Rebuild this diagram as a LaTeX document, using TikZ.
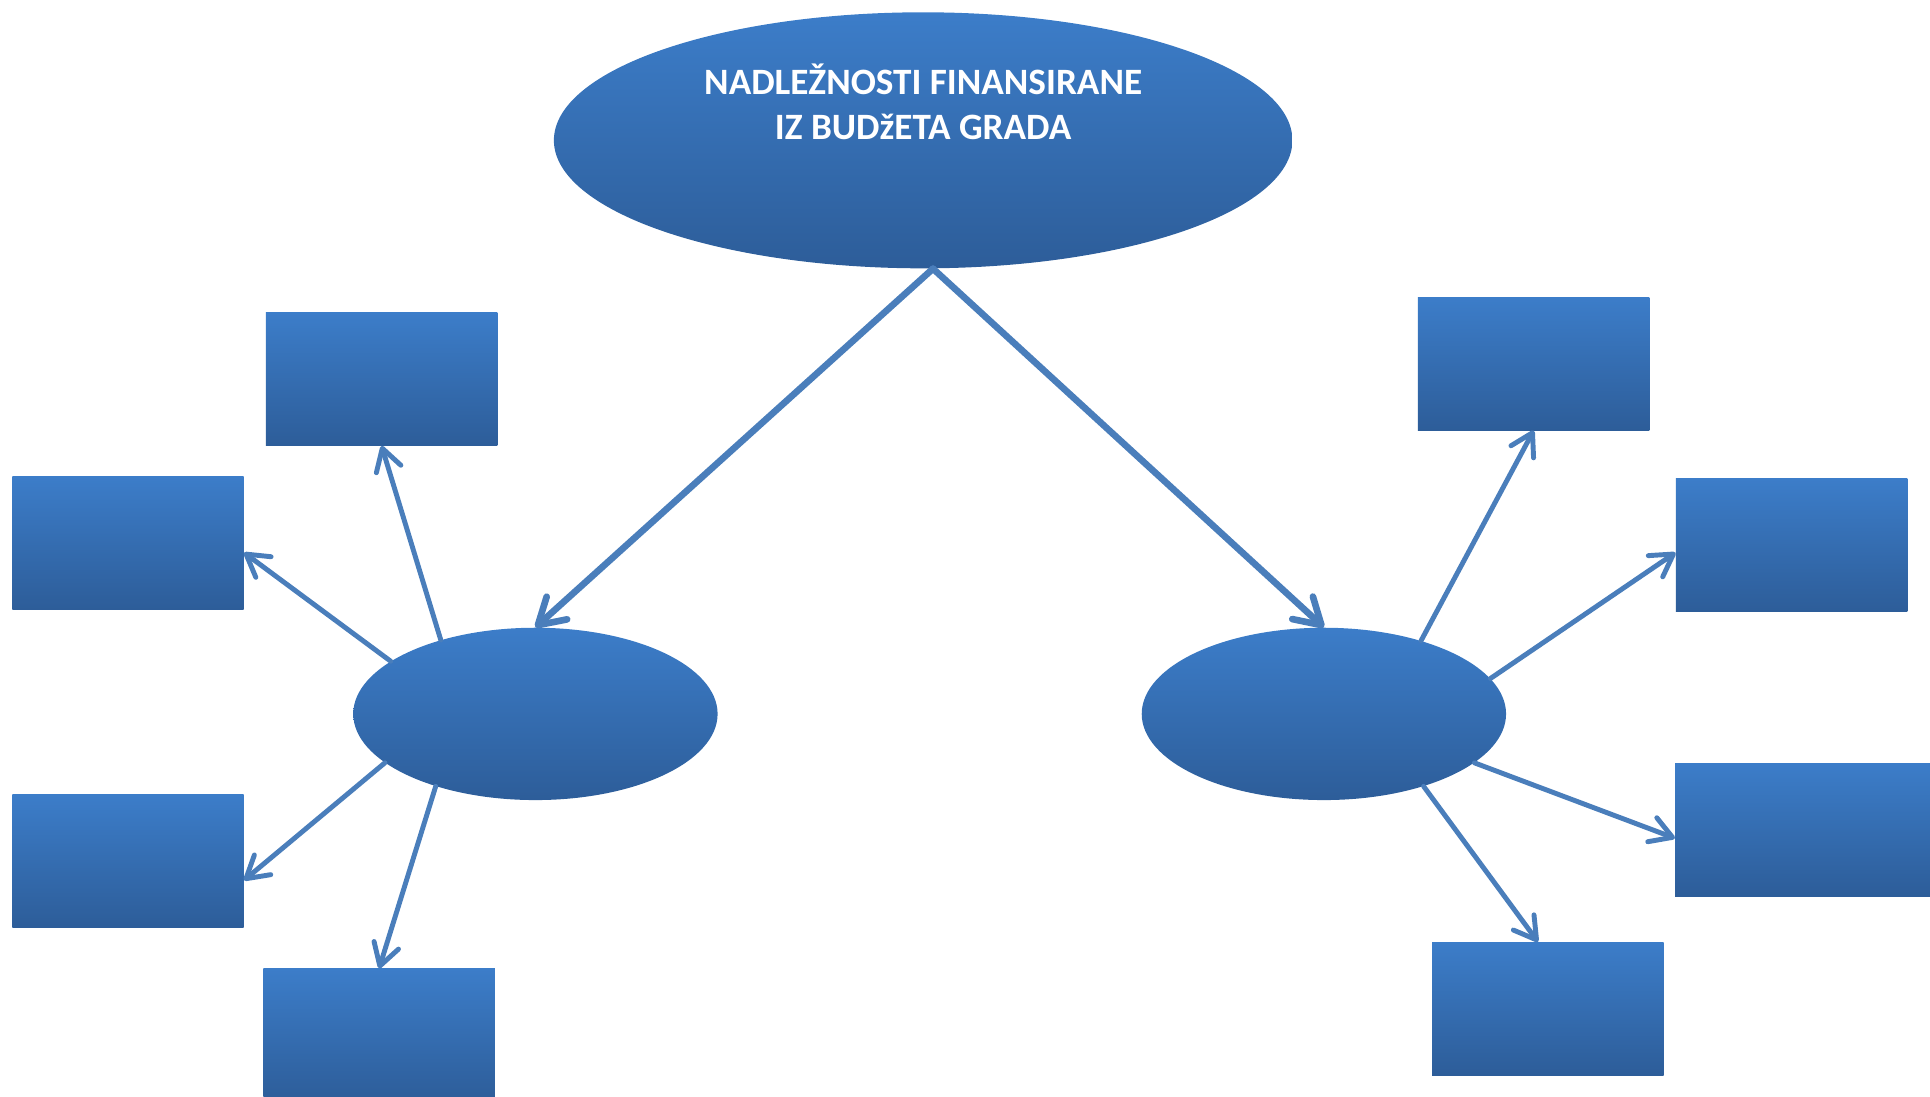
\documentclass[tikz,border=0pt]{standalone}
\usepackage{fontspec}
\setmainfont{Carlito}
\usepackage{xcolor}
\usetikzlibrary{shapes.geometric}
\usetikzlibrary{positioning}
\usetikzlibrary{arrows.meta}
\definecolor{shadetop}{HTML}{3C7DC9}
\definecolor{shadebot}{HTML}{2D5D99}
\definecolor{linkblue}{HTML}{4A7EBB}
\tikzstyle{hub} = [ellipse, minimum width=74mm, minimum height=35mm, inner sep=0pt, top color=shadetop, bottom color=shadebot]
\tikzstyle{root} = [hub, minimum width=150mm, minimum height=52mm]
\tikzstyle{task} = [rectangle, minimum width=47mm, minimum height=27mm, inner sep=0pt, top color=shadetop, bottom color=shadebot]
\tikzstyle{arrow} = [line width=1mm, draw=linkblue, line cap=round, -{Straight Barb[length=4.4mm, width=5.2mm, round]}]
\tikzstyle{bigarrow} = [arrow, line width=1.35mm, -{Straight Barb[length=5.2mm, width=6.2mm, round]}]

\begin{document}
\begin{tikzpicture}[x=0.25mm, y=-0.25mm]
            \useasboundingbox (0,0) rectangle (1568,891);
            \node (grad) [root] at (750,114) {};
            \node (title) [text=white, font=\bfseries\fontsize{21.5}{26}\selectfont, align=center] at (750,83) {NADLEŽNOSTI FINANSIRANE\\IZ BUDžETA GRADA};
            \node (hubL) [hub] at (435,580) {};
            \node (hubR) [hub, right=86mm of hubL] {};
            \node (boxLtop) [task] at (310,308) {};
            \node (boxLup) [task] at (104,441) {};
            \node (boxLlow) [task, below=37.5mm of boxLup] {};
            \node (boxLbot) [task] at (308,841) {};
            \node (boxRtop) [task] at (1246,295.5) {};
            \node (boxRup) [task] at (1455.5,443) {};
            \node (boxRlow) [task, minimum width=52mm] at (1465,674) {};
            \node (boxRbot) [task] at (1257.5,819.5) {};

            \draw[bigarrow] ([xshift=2mm]grad.south) -- (hubL.north);
            \draw[bigarrow] ([xshift=2mm]grad.south) -- (hubR.north);
            \draw[arrow] (hubL.142) -- (boxLtop.south);
            \draw[arrow] (hubL.160) -- ([yshift=-2mm]boxLup.east);
            \draw[arrow] (hubL.198) -- ([yshift=-3.9mm]boxLlow.east);
            \draw[arrow] (hubL.216) -- (boxLbot.north);
            \draw[arrow] (hubR.37) -- (boxRtop.south);
            \draw[arrow] (hubR.12) -- ([yshift=-1.5mm]boxRup.west);
            \draw[arrow] (hubR.-18) -- ([yshift=-1.75mm]boxRlow.west);
            \draw[arrow] (hubR.-36) -- ([xshift=-2mm]boxRbot.north);
        \end{tikzpicture}
\end{document}
